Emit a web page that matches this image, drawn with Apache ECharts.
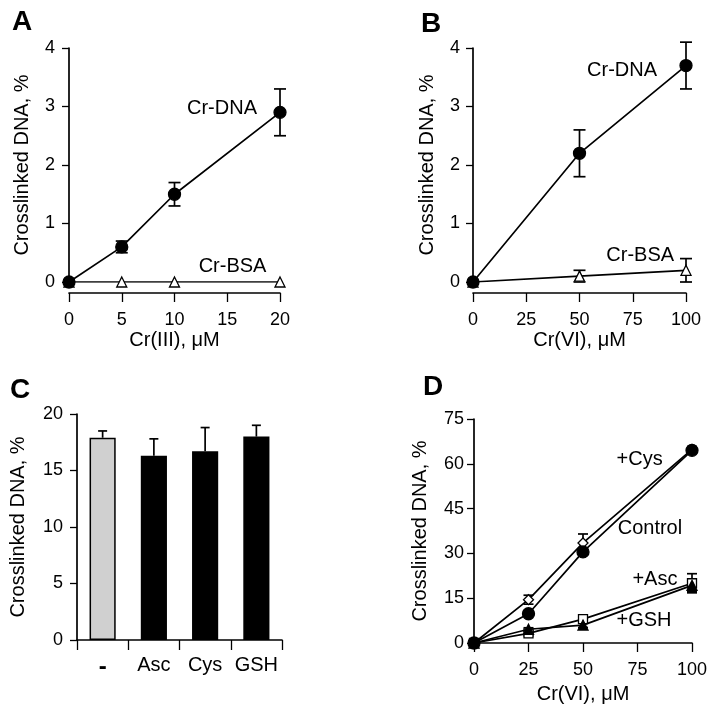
<!DOCTYPE html>
<html><head><meta charset="utf-8">
<script src="https://cdn.jsdelivr.net/npm/echarts@6/dist/echarts.min.js"></script>
<style>html,body{margin:0;padding:0;background:#fff}#c{width:714px;height:714px}</style>
</head><body><div id="c"></div>
<script>
// ---- Data ----
const aX = [0, 5, 10, 20];
const aDNA = [0, 0.6, 1.5, 2.9];
const aDNAerr = [0, 0.1, 0.2, 0.4];
const aBSA = [0, 0, 0, 0];

const bX = [0, 50, 100];
const bDNA = [0, 2.2, 3.7];
const bDNAerr = [0, 0.4, 0.4];
const bBSA = [0, 0.1, 0.2];
const bBSAerr = [0, 0.1, 0.2];

const cCats = ['-', 'Asc', 'Cys', 'GSH'];
const cVals = [17.9, 16.3, 16.7, 18.0];
const cErr = [0.6, 1.5, 2.1, 1.0];

const dX = [0, 25, 50, 100];
const dControl = [0, 9.8, 30.5, 64.5];
const dCys = [0, 14.5, 33.5, 64.8];
const dCysErr = [0, 1.5, 3, 1];
const dAsc = [0, 3.2, 8.0, 20.0];
const dAscErr = [0, 0.8, 1, 3.2];
const dGSH = [0, 4.6, 6.0, 19.3];
const dGSHErr = [0, 0.5, 0.8, 2];

// annotation texts [text, x, y] in data units
const aNotes = [['Cr-DNA', 14.5, 2.97], ['Cr-BSA', 15.5, 0.27]];
const bNotes = [['Cr-DNA', 70, 3.62], ['Cr-BSA', 78.5, 0.46]];
const dNotes = [['+Cys', 76, 61.3], ['Control', 80.7, 38.2], ['+Asc', 83, 21.4], ['+GSH', 78, 7.7]];

// ---- Helpers ----
const FONT = "'Liberation Sans', Arial, Helvetica, sans-serif";
const BLACK = '#000';
function pairs(xs, ys) { return xs.map((x, i) => [x, ys[i]]); }
function errData(xs, ys, es) { return xs.map((x, i) => [x, ys[i], ys[i] - es[i], ys[i] + es[i]]); }
function errSeries(data, gi, capW, upOnly) {
  return {
    type: 'custom', xAxisIndex: gi, yAxisIndex: gi, z: 3, silent: true,
    data: data,
    encode: { x: 0, y: [1, 2, 3] },
    renderItem: function (params, api) {
      const x = api.value(0), y = api.value(1), lo = api.value(2), hi = api.value(3);
      const top = api.coord([x, hi]);
      const bot = api.coord([x, upOnly ? y : lo]);
      const st = { stroke: BLACK, lineWidth: 1.7 };
      const ch = [
        { type: 'line', shape: { x1: top[0], y1: top[1], x2: bot[0], y2: bot[1] }, style: st },
        { type: 'line', shape: { x1: top[0] - capW, y1: top[1], x2: top[0] + capW, y2: top[1] }, style: st }
      ];
      if (!upOnly) ch.push({ type: 'line', shape: { x1: bot[0] - capW, y1: bot[1], x2: bot[0] + capW, y2: bot[1] }, style: st });
      return { type: 'group', children: ch };
    }
  };
}
function lineSeries(data, gi, symbol, size, filled, z) {
  return {
    type: 'line', xAxisIndex: gi, yAxisIndex: gi, data: data, symbol: symbol, symbolSize: size,
    showAllSymbol: true, z: z || 4, silent: true,
    lineStyle: { color: BLACK, width: 1.7 },
    itemStyle: { color: filled ? BLACK : '#fff', borderColor: BLACK, borderWidth: 1.3 }
  };
}
function noteSeries(notes, gi) {
  return {
    type: 'scatter', xAxisIndex: gi, yAxisIndex: gi, symbolSize: 0, silent: true, z: 6,
    itemStyle: { opacity: 1 },
    data: notes.map(n => ({ value: [n[1], n[2]], name: n[0] })),
    label: { show: true, position: 'inside', formatter: p => p.name, color: BLACK, opacity: 1, fontSize: 20, fontFamily: FONT }
  };
}
const tickLabel = { color: BLACK, fontSize: 18, fontFamily: FONT };
const nameStyle = { color: BLACK, fontSize: 20, fontFamily: FONT };
function valX(gi, min, max, interval, offset, name, nameGap) {
  return {
    type: 'value', gridIndex: gi, min: min, max: max, interval: interval, offset: offset,
    name: name, nameLocation: 'middle', nameGap: nameGap, nameTextStyle: nameStyle,
    axisLine: { show: true, onZero: false, lineStyle: { color: BLACK, width: 1.7 } },
    axisTick: { show: true, length: 9, lineStyle: { color: BLACK, width: 1.3 } },
    axisLabel: Object.assign({ margin: 18 }, tickLabel),
    splitLine: { show: false }
  };
}
function valY(gi, min, max, interval, name, nameGap, margin) {
  return {
    type: 'value', gridIndex: gi, min: min, max: max, interval: interval,
    name: name, nameLocation: 'middle', nameGap: nameGap, nameTextStyle: nameStyle,
    axisLine: { show: true, lineStyle: { color: BLACK, width: 1.7 } },
    axisTick: { show: true, length: 7, lineStyle: { color: BLACK, width: 1.3 } },
    axisLabel: Object.assign({ margin: margin }, tickLabel),
    splitLine: { show: false }
  };
}
const yName = 'Crosslinked DNA, %';

const option = {
  backgroundColor: '#fff',
  animation: false,
  grid: [
    { left: 69, top: 48, width: 211, height: 234 },
    { left: 473, top: 48, width: 213, height: 234 },
    { left: 77, top: 414, width: 205, height: 226 },
    { left: 474, top: 419, width: 218, height: 224 }
  ],
  xAxis: [
    valX(0, 0, 20, 5, 11, 'Cr(III), \u03bcM', 37),
    valX(1, 0, 100, 25, 11, 'Cr(VI), \u03bcM', 37),
    {
      type: 'category', gridIndex: 2, data: cCats, boundaryGap: true,
      axisLine: { show: true, lineStyle: { color: BLACK, width: 1.7 } },
      axisTick: { show: true, length: 10, interval: 0, alignWithLabel: false, lineStyle: { color: BLACK, width: 1.3 } },
      axisLabel: Object.assign({ margin: 15, interval: 0 }, tickLabel, {
        fontSize: 20,
        formatter: v => v === '-' ? '{b|' + v + '}' : v,
        rich: { b: { fontSize: 24, fontWeight: 'bold', fontFamily: FONT, color: BLACK } }
      })
    },
    valX(3, 0, 100, 25, 0, 'Cr(VI), \u03bcM', 41)
  ],
  yAxis: [
    valY(0, 0, 4, 1, yName, 37, 14),
    valY(1, 0, 4, 1, yName, 36, 13),
    valY(2, 0, 20, 5, yName, 49, 14),
    valY(3, 0, 75, 15, yName, 44, 10)
  ],
  graphic: [
    { type: 'text', left: 12, top: 8, style: { text: 'A', font: "bold 28px " + FONT, fill: BLACK } },
    { type: 'text', left: 421, top: 10, style: { text: 'B', font: "bold 28px " + FONT, fill: BLACK } },
    { type: 'text', left: 10, top: 376, style: { text: 'C', font: "bold 28px " + FONT, fill: BLACK } },
    { type: 'text', left: 423, top: 373, style: { text: 'D', font: "bold 28px " + FONT, fill: BLACK } }
  ],
  series: [
    // A
    lineSeries(pairs(aX, aBSA), 0, 'triangle', 10, false, 4),
    errSeries(errData(aX, aDNA, aDNAerr), 0, 6, false),
    lineSeries(pairs(aX, aDNA), 0, 'circle', 12, true, 5),
    noteSeries(aNotes, 0),
    // B
    errSeries(errData(bX, bBSA, bBSAerr), 1, 6, false),
    lineSeries(pairs(bX, bBSA), 1, 'triangle', 10, false, 4),
    errSeries(errData(bX, bDNA, bDNAerr), 1, 6, false),
    lineSeries(pairs(bX, bDNA), 1, 'circle', 12, true, 5),
    noteSeries(bNotes, 1),
    // C
    errSeries(cVals.map((v, i) => [i, v, v, v + cErr[i]]), 2, 4.5, true),
    {
      type: 'bar', xAxisIndex: 2, yAxisIndex: 2, barWidth: '51%', silent: true, z: 4,
      data: cVals.map((v, i) => ({ value: v, itemStyle: { color: i === 0 ? '#d0d0d0' : BLACK } })),
      itemStyle: { borderColor: BLACK, borderWidth: 1.5 }
    },
    // D
    errSeries(errData(dX, dCys, dCysErr), 3, 5, false),
    errSeries(errData(dX, dAsc, dAscErr), 3, 5, false),
    errSeries(errData(dX, dGSH, dGSHErr), 3, 5, false),
    lineSeries(pairs(dX, dCys), 3, 'diamond', 10, false, 4),
    lineSeries(pairs(dX, dAsc), 3, 'rect', 9, false, 4),
    lineSeries(pairs(dX, dGSH), 3, 'triangle', 10, true, 5),
    lineSeries(pairs(dX, dControl), 3, 'circle', 12, true, 5),
    noteSeries(dNotes, 3)
  ]
};
const chart = echarts.init(document.getElementById('c'), null, { renderer: 'canvas' });
chart.setOption(option);
</script>
</body></html>
